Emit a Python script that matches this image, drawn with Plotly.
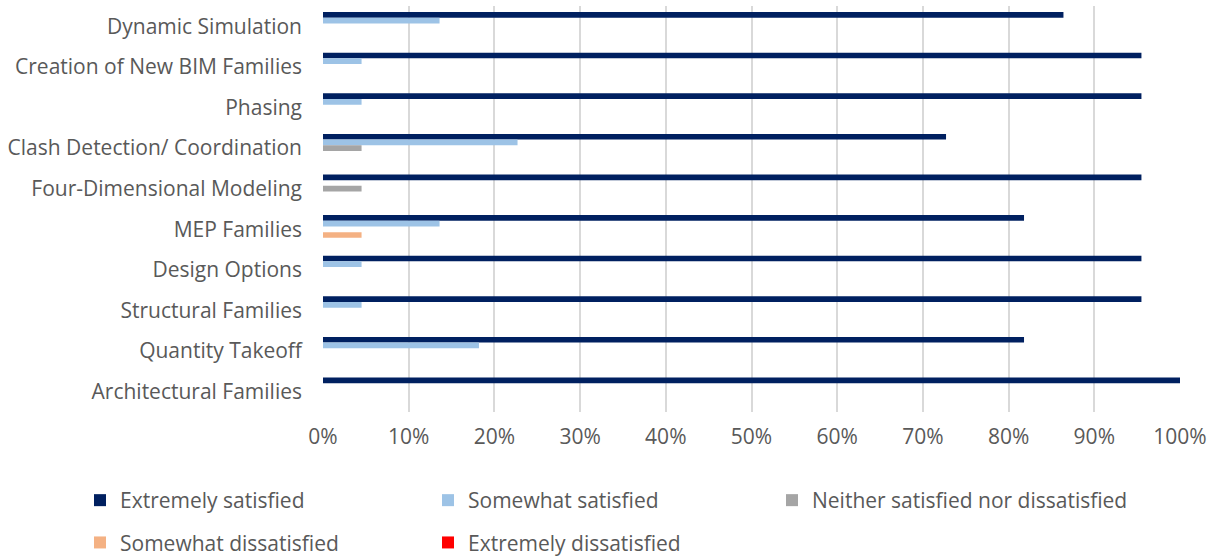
import plotly.graph_objects as go

categories = ["Dynamic Simulation", "Creation of New BIM Families", "Phasing",
              "Clash Detection/ Coordination", "Four-Dimensional Modeling", "MEP Families",
              "Design Options", "Structural Families", "Quantity Takeoff", "Architectural Families"]

extremely_satisfied = [86.4, 95.5, 95.5, 72.7, 95.5, 81.8, 95.5, 95.5, 81.8, 100.0]
somewhat_satisfied = [13.6, 4.5, 4.5, 22.7, 0, 13.6, 4.5, 4.5, 18.2, 0]
neither = [0, 0, 0, 4.5, 4.5, 0, 0, 0, 0, 0]
somewhat_dissatisfied = [0, 0, 0, 0, 0, 4.5, 0, 0, 0, 0]
extremely_dissatisfied = [0, 0, 0, 0, 0, 0, 0, 0, 0, 0]

series = [
    ("Extremely satisfied", extremely_satisfied, "#002060", "legend"),
    ("Somewhat satisfied", somewhat_satisfied, "#9DC3E6", "legend2"),
    ("Neither satisfied nor dissatisfied", neither, "#A5A5A5", "legend3"),
    ("Somewhat dissatisfied", somewhat_dissatisfied, "#F4B183", "legend"),
    ("Extremely dissatisfied", extremely_dissatisfied, "#FF0000", "legend2"),
]

FONT = "Open Sans"
TXT = "#595959"
FS = 21

fig = go.Figure()
for name, vals, color, lg in series:
    fig.add_trace(go.Bar(
        y=categories, x=[v / 100 for v in vals], name=name, orientation="h",
        marker=dict(color=color, line=dict(width=0)), legend=lg, legendgroup=name,
    ))

legend_common = dict(
    orientation="v", xref="container", yref="container",
    xanchor="left", yanchor="top", tracegroupgap=12,
    font=dict(family=FONT, size=FS, color=TXT), bgcolor="rgba(0,0,0,0)",
    traceorder="grouped",
)
LEG_TOP = 1 - 480 / 558

fig.update_layout(
    width=1214, height=558,
    margin=dict(l=323, r=34, t=6, b=146, autoexpand=False),
    barmode="group", bargap=0.3, bargroupgap=0,
    plot_bgcolor="white", paper_bgcolor="white",
    font=dict(family=FONT, size=FS, color=TXT),
    legend=dict(x=80 / 1214, y=LEG_TOP, **legend_common),
    legend2=dict(x=428 / 1214, y=LEG_TOP, **legend_common),
    legend3=dict(x=772 / 1214, y=LEG_TOP, **legend_common),
    xaxis=dict(range=[0, 1], tickvals=[i / 10 for i in range(11)],
               ticktext=[f"{i*10}%" for i in range(11)],
               showgrid=True, gridcolor="#D9D9D9", gridwidth=2,
               zeroline=False, showline=False, ticklabelstandoff=10,
               tickfont=dict(family=FONT, size=FS, color=TXT)),
    yaxis=dict(autorange="reversed", showgrid=False, showline=False,
               ticklabelstandoff=20, tickfont=dict(family=FONT, size=FS, color=TXT)),
)

fig.write_html("out.html")
